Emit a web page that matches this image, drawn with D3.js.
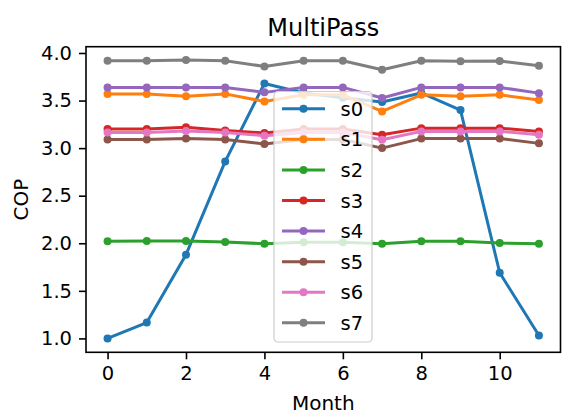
<!DOCTYPE html>
<html><head><meta charset="utf-8">
<script src="https://cdn.jsdelivr.net/npm/d3@7"></script>
<style>html,body{margin:0;padding:0;background:#fff}svg{display:block;font-family:"DejaVu Sans",sans-serif}</style>
</head><body><svg id="c" width="563" height="414"></svg>
<script>
const months = [0,1,2,3,4,5,6,7,8,9,10,11];
const seriesNames = ["s0","s1","s2","s3","s4","s5","s6","s7"];
const s0 = [1.00,1.167,1.88,2.86,3.68,3.58,3.53,3.485,3.58,3.40,1.69,1.03];
const s1 = [3.57,3.57,3.545,3.57,3.49,3.56,3.56,3.385,3.56,3.545,3.56,3.505];
const s2 = [2.02,2.025,2.025,2.013,1.995,2.01,2.01,1.995,2.02,2.02,2.002,1.995];
const s3 = [3.20,3.20,3.22,3.185,3.16,3.20,3.20,3.14,3.21,3.21,3.21,3.175];
const s4 = [3.638,3.638,3.638,3.638,3.586,3.638,3.638,3.527,3.638,3.638,3.638,3.578];
const s5 = [3.09,3.09,3.10,3.09,3.043,3.09,3.09,3.00,3.10,3.10,3.10,3.05];
const s6 = [3.165,3.165,3.18,3.165,3.13,3.165,3.165,3.088,3.176,3.176,3.176,3.14];
const s7 = [3.919,3.919,3.925,3.919,3.859,3.919,3.919,3.824,3.919,3.912,3.915,3.866];
const colors = ["#1f77b4","#ff7f0e","#2ca02c","#d62728","#9467bd","#8c564b","#e377c2","#7f7f7f"];
const xTicks = [0,2,4,6,8,10];
const yTicks = [1.0,1.5,2.0,2.5,3.0,3.5,4.0];
const allSeries = [s0,s1,s2,s3,s4,s5,s6,s7];

const svg = d3.select("#c");
const L = 86, R = 560.5, T = 46.7, B = 352.3;
const x = d3.scaleLinear().domain([-0.55, 11.55]).range([L, R]);
const y = d3.scaleLinear().domain([0.854, 4.066]).range([B, T]);

const line = d3.line().x((d,i)=>x(months[i])).y(d=>y(d));
allSeries.forEach((s,k)=>{
  const g = svg.append("g");
  g.append("path").datum(s).attr("d", line).attr("fill","none")
    .attr("stroke", colors[k]).attr("stroke-width", 3).attr("stroke-linejoin","round");
  g.selectAll("circle").data(s).join("circle")
    .attr("cx",(d,i)=>x(months[i])).attr("cy",d=>y(d)).attr("r",4).attr("fill",colors[k]);
});

// axes
const xa = svg.append("g").attr("transform",`translate(0,${B})`)
  .call(d3.axisBottom(x).tickValues(xTicks).tickFormat(d3.format("d")).tickSize(7).tickPadding(7));
const ya = svg.append("g").attr("transform",`translate(${L},0)`)
  .call(d3.axisLeft(y).tickValues(yTicks).tickFormat(d3.format(".1f")).tickSize(7).tickPadding(7));
[xa,ya].forEach(a=>{
  a.select(".domain").remove();
  a.selectAll("line").attr("stroke","#000").attr("stroke-width",1.6);
  a.selectAll("text").attr("font-size",19.5).attr("fill","#000").attr("font-family","DejaVu Sans");
});
svg.append("rect").attr("x",L).attr("y",T).attr("width",R-L).attr("height",B-T)
  .attr("fill","none").attr("stroke","#000").attr("stroke-width",1.6);

svg.append("text").attr("x",(L+R)/2).attr("y",35.5).attr("text-anchor","middle")
  .attr("font-size",24).text("MultiPass");
svg.append("text").attr("x",(L+R)/2).attr("y",410).attr("text-anchor","middle")
  .attr("font-size",20).text("Month");
svg.append("text").attr("transform",`translate(27.5,${(T+B)/2}) rotate(-90)`).attr("text-anchor","middle")
  .attr("font-size",20).text("COP");

// legend
const lg = svg.append("g");
lg.append("rect").attr("x",274).attr("y",91.5).attr("width",98).attr("height",250.5).attr("rx",4)
  .attr("fill","#fff").attr("fill-opacity",0.8).attr("stroke","#cccccc").attr("stroke-width",1.2);
seriesNames.forEach((n,k)=>{
  const cy = 108.8 + k*30.57;
  lg.append("line").attr("x1",282).attr("x2",325).attr("y1",cy).attr("y2",cy)
    .attr("stroke",colors[k]).attr("stroke-width",3);
  lg.append("circle").attr("cx",303.5).attr("cy",cy).attr("r",4).attr("fill",colors[k]);
  lg.append("text").attr("x",340.5).attr("y",cy).attr("dy","0.36em").attr("font-size",19.5).text(n);
});
</script></body></html>
